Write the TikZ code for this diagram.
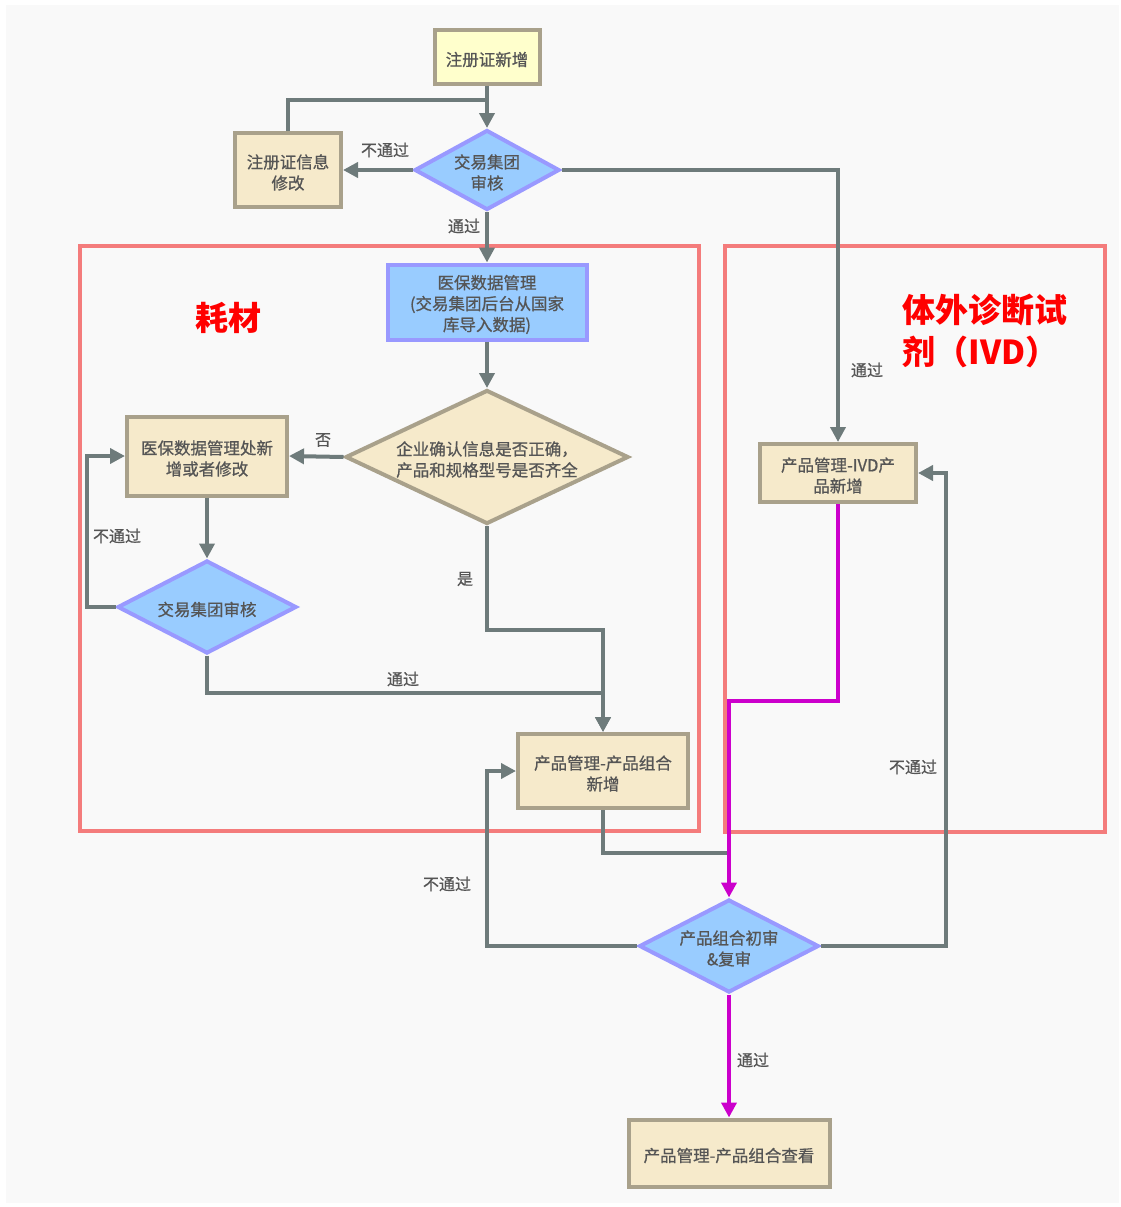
\documentclass[tikz,border=0pt]{standalone}
\usepackage{fontspec}
\setmainfont{Noto Sans CJK SC}
\newfontfamily\cjk{Noto Sans CJK SC}[FakeBold=0.8]
\usetikzlibrary{shapes.geometric,arrows.meta}
\definecolor{bgc}{HTML}{F9F9F9}
\definecolor{txt}{HTML}{555555}
\definecolor{linec}{HTML}{6E7B7B}
\definecolor{tanfill}{HTML}{F6EACB}
\definecolor{tanedge}{HTML}{A9A18B}
\definecolor{yelfill}{HTML}{FFFFCC}
\definecolor{bluefill}{HTML}{99CCFF}
\definecolor{blueedge}{HTML}{9999FF}
\definecolor{framec}{HTML}{F47C7C}
\definecolor{magc}{HTML}{CC00CC}
\newcommand\upstrut{\rule{0pt}{19pt}}
\begin{document}
\begin{tikzpicture}[x=1pt,y=-1pt,
  ntext/.style={text=txt,font=\cjk\fontsize{16.5}{21}\selectfont,align=center},
  tanbox/.style={ntext,draw=tanedge,fill=tanfill,line width=4pt,inner sep=0pt},
  yelbox/.style={tanbox,fill=yelfill},
  bluebox/.style={ntext,draw=blueedge,fill=bluefill,line width=4pt,inner sep=0pt},
  bluedia/.style={bluebox,diamond},
  tandia/.style={tanbox,diamond},
  line/.style={draw=linec,line width=4pt},
  conn/.style={line,-{Triangle[length=15pt,width=15pt]}},
  mag/.style={draw=magc,line width=4pt,-{Triangle[length=15pt,width=15pt]}},
  lbl/.style={text=txt,font=\cjk\fontsize{16}{20}\selectfont},
  frame/.style={draw=framec,line width=3.5pt},
  title/.style={text=red,font=\bfseries\fontsize{33}{42}\selectfont,align=left}
]
\useasboundingbox (0,0) rectangle (1121,1207);
\fill[white] (0,0) rectangle (1121,1207);
\fill[bgc] (6,5) rectangle (1119,1203);

% frames
\draw[frame] (80,246) rectangle (699,831);
\draw[frame] (725,246) rectangle (1105,832);
\node[title] (t1) at (228,318) {耗材};
\node[title,anchor=west] (t2) at (899,331) {体外诊断试\\剂（IVD）};

% nodes
\node[yelbox,minimum width=105pt,minimum height=53pt] (reg) at (487,57) {\upstrut 注册证新增};
\node[tanbox,minimum width=106pt,minimum height=74pt] (regfix) at (288,170) {\upstrut 注册证信息\\修改};
\node[bluedia,minimum width=145pt,minimum height=80pt,aspect=1.9] (audit1) at (487,170) {\upstrut 交易集团\\审核};
\node[bluebox,minimum width=199pt,minimum height=75pt] (med) at (487,302) {\upstrut 医保数据管理\\(交易集团后台从国家\\库导入数据)};
\node[tandia,minimum width=283pt,minimum height=134pt,aspect=2.11] (confirm) at (487,457) {\upstrut 企业确认信息是否正确，\\产品和规格型号是否齐全};
\node[tanbox,minimum width=160pt,minimum height=79pt] (medfix) at (207,456) {\upstrut 医保数据管理处新\\增或者修改};
\node[bluedia,minimum width=179pt,minimum height=93pt,aspect=1.92] (audit2) at (207,607) {\upstrut 交易集团审核};
\node[tanbox,minimum width=170pt,minimum height=74pt] (combo) at (603,771) {\upstrut 产品管理-产品组合\\新增};
\node[tanbox,minimum width=156pt,minimum height=58pt] (ivd) at (838,473) {\upstrut 产品管理-IVD产\\品新增};
\node[bluedia,minimum width=178pt,minimum height=93pt,aspect=1.95] (review) at (729,946) {\upstrut 产品组合初审\\\&复审};
\node[tanbox,minimum width=201pt,minimum height=67pt] (view) at (729,1153) {\upstrut 产品管理-产品组合查看};

% junctions
\coordinate (j1) at (487,100);
\coordinate (j2) at (603,693);
\coordinate (j3) at (603,630);
\coordinate (j4) at (729,853);
\coordinate (j5) at (729,701);
\coordinate (j6) at (487,946);
\coordinate (j7) at (946,946);
\coordinate (j8) at (87,607);

% connectors
\draw[conn] (reg.south) -- (audit1.north);
\draw[line] (regfix.north) |- (j1);
\draw[conn] (audit1.west) -- (regfix.east);
\node[lbl] (l1) at (385,150) {不通过};
\draw[conn] (audit1.east) -| (ivd.north);
\node[lbl] (l2) at (867,370) {通过};
\draw[conn] (audit1.south) -- (med.north);
\node[lbl] (l3) at (464,226) {通过};
\draw[conn] (med.south) -- (confirm.north);
\draw[conn] (confirm.west) -- (medfix.east);
\node[lbl] (l4) at (323,440) {否};
\draw[conn] (medfix.south) -- (audit2.north);
\draw[conn] (audit2.west) -- (j8) |- (medfix.west);
\node[lbl] (l5) at (117,536) {不通过};
\draw[conn] (audit2.south) |- (j2) -- (combo.north);
\node[lbl] (l6) at (403,679) {通过};
\draw[conn] (confirm.south) |- (j3) -- (combo.north);
\node[lbl] (l7) at (465,579) {是};
\draw[line] (combo.south) |- (j4);
\draw[conn] (review.west) -- (j6) |- (combo.west);
\node[lbl] (l8) at (447,884) {不通过};
\draw[conn] (review.east) -- (j7) |- (ivd.east);
\node[lbl] (l9) at (913,767) {不通过};
\draw[mag] (ivd.south) |- (j5) -- (review.north);
\draw[mag] (review.south) -- (view.north);
\node[lbl] (l10) at (753,1060) {通过};
\end{tikzpicture}
\end{document}
